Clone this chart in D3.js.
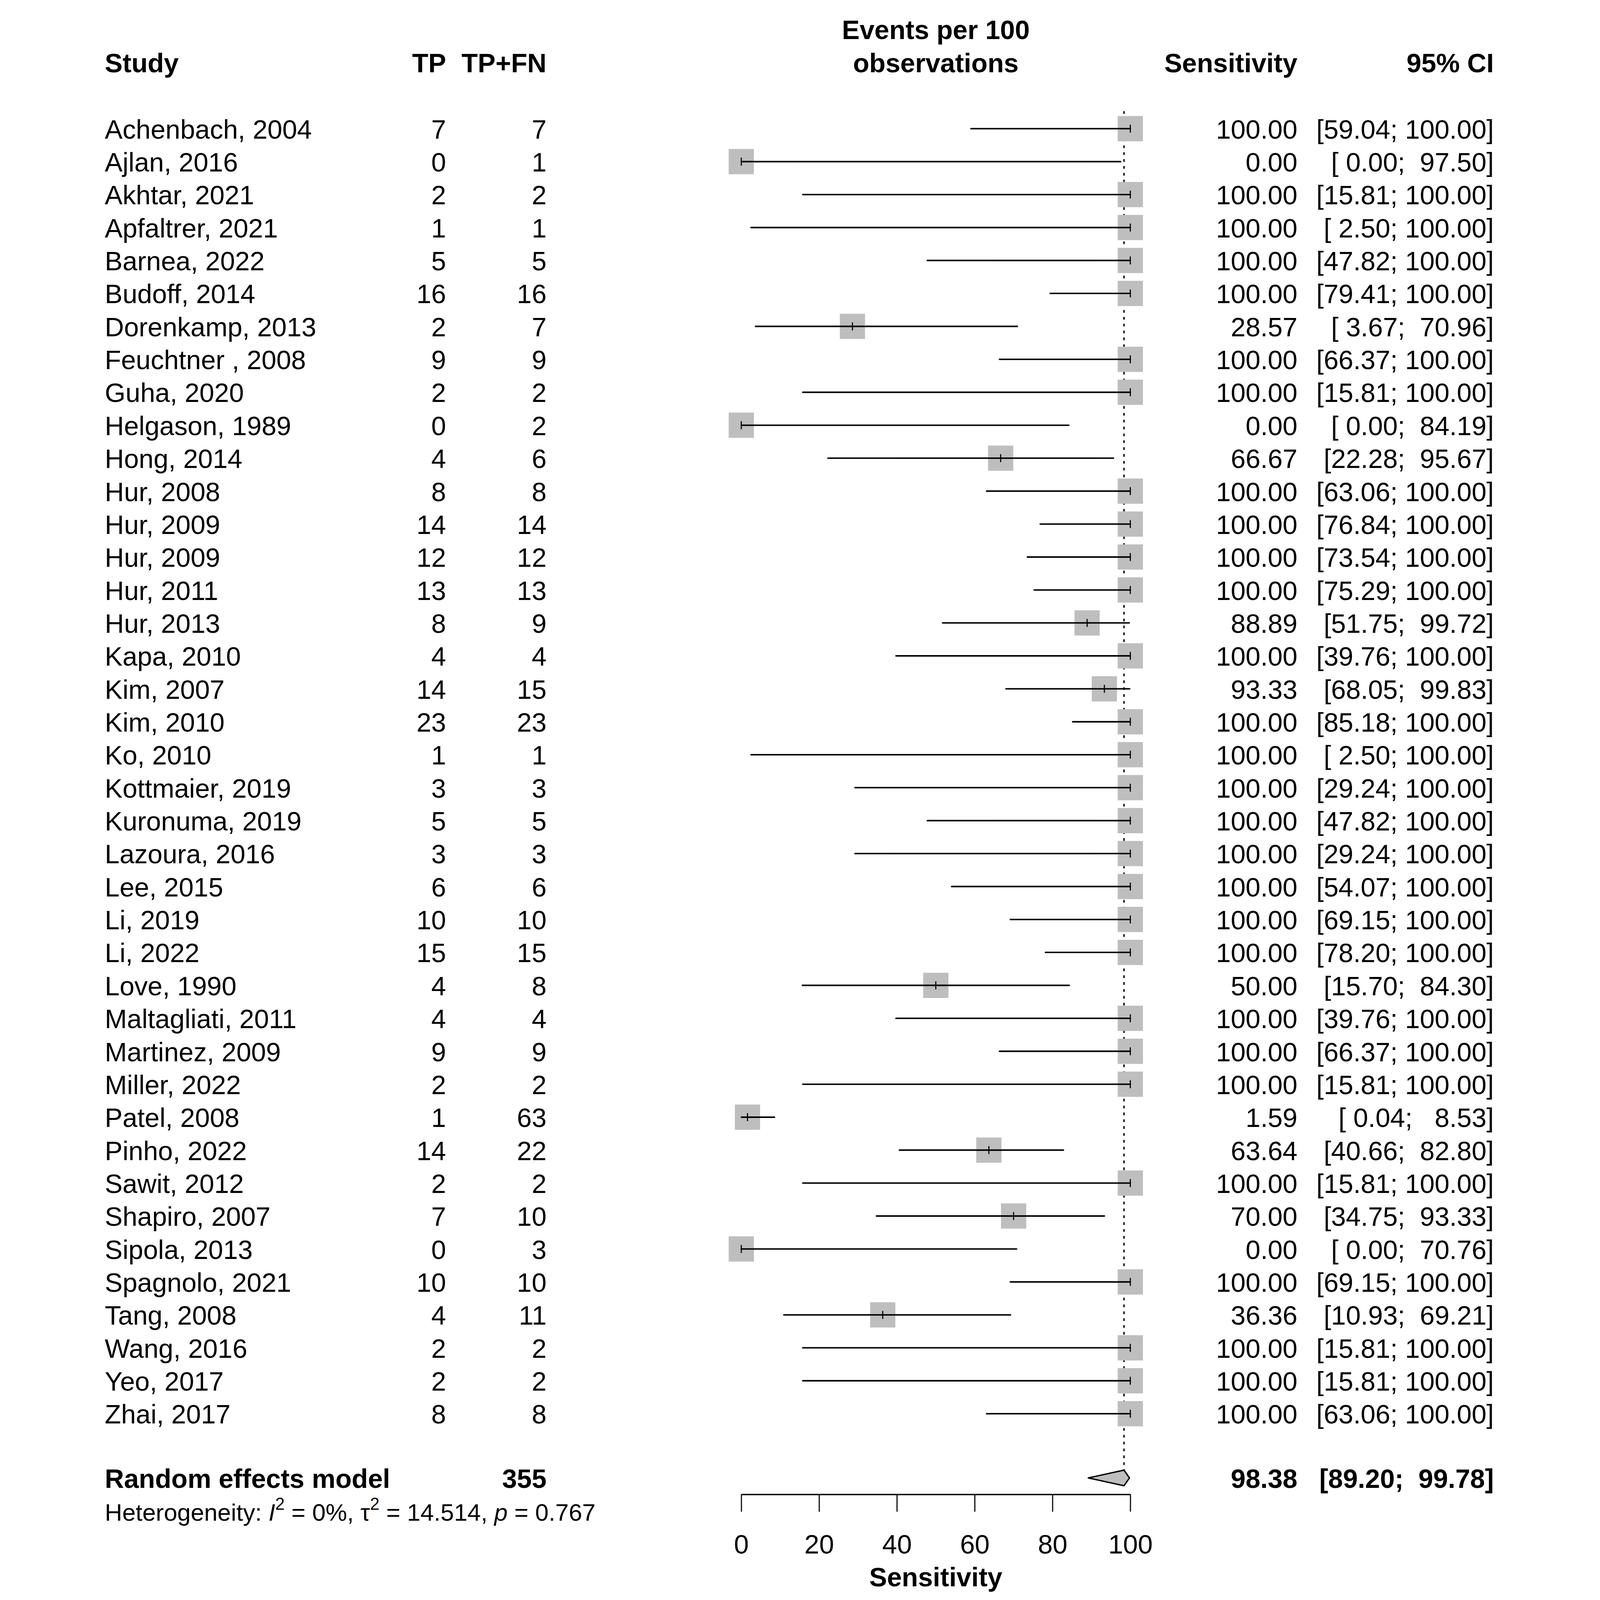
<!DOCTYPE html>
<html><head><meta charset="utf-8">
<script src="https://cdn.jsdelivr.net/npm/d3@7"></script>
<style>html,body{margin:0;padding:0;background:#fff;width:100%;height:100%;overflow:hidden;}svg{display:block;}</style>
</head><body>
<script>
const studies = ["Achenbach, 2004","Ajlan, 2016","Akhtar, 2021","Apfaltrer, 2021","Barnea, 2022","Budoff, 2014","Dorenkamp, 2013","Feuchtner , 2008","Guha, 2020","Helgason, 1989","Hong, 2014","Hur, 2008","Hur, 2009","Hur, 2009","Hur, 2011","Hur, 2013","Kapa, 2010","Kim, 2007","Kim, 2010","Ko, 2010","Kottmaier, 2019","Kuronuma, 2019","Lazoura, 2016","Lee, 2015","Li, 2019","Li, 2022","Love, 1990","Maltagliati, 2011","Martinez, 2009","Miller, 2022","Patel, 2008","Pinho, 2022","Sawit, 2012","Shapiro, 2007","Sipola, 2013","Spagnolo, 2021","Tang, 2008","Wang, 2016","Yeo, 2017","Zhai, 2017"];
const tp = [7,0,2,1,5,16,2,9,2,0,4,8,14,12,13,8,4,14,23,1,3,5,3,6,10,15,4,4,9,2,1,14,2,7,0,10,4,2,2,8];
const tpfn = [7,1,2,1,5,16,7,9,2,2,6,8,14,12,13,9,4,15,23,1,3,5,3,6,10,15,8,4,9,2,63,22,2,10,3,10,11,2,2,8];
const sens = [100,0,100,100,100,100,28.57,100,100,0,66.67,100,100,100,100,88.89,100,93.33,100,100,100,100,100,100,100,100,50,100,100,100,1.59,63.64,100,70,0,100,36.36,100,100,100];
const lower = [59.04,0,15.81,2.50,47.82,79.41,3.67,66.37,15.81,0,22.28,63.06,76.84,73.54,75.29,51.75,39.76,68.05,85.18,2.50,29.24,47.82,29.24,54.07,69.15,78.20,15.70,39.76,66.37,15.81,0.04,40.66,15.81,34.75,0,69.15,10.93,15.81,15.81,63.06];
const upper = [100,97.50,100,100,100,100,70.96,100,100,84.19,95.67,100,100,100,100,99.72,100,99.83,100,100,100,100,100,100,100,100,84.30,100,100,100,8.53,82.80,100,93.33,70.76,100,69.21,100,100,100];
const pooledLabel = "Random effects model";
const pooledTotal = 355;
const pooledEst = 98.38, pooledLow = 89.20, pooledHigh = 99.78;
const hetText = {i2: "0%", tau2: "14.514", p: "0.767"};
const xTicks = [0,20,40,60,80,100];
const headers = {study:"Study", tp:"TP", tpfn:"TP+FN", plot1:"Events per 100", plot2:"observations", est:"Sensitivity", ci:"95% CI"};
const xLabel = "Sensitivity";

const W = 5328, H = 5832;
const FONT = "'Liberation Sans', Arial, Helvetica, sans-serif";
const FS = 97;
const svg = d3.select("body").append("svg")
  .attr("viewBox", `0 0 ${W} ${H}`)
  .attr("preserveAspectRatio", "xMidYMid meet")
  .style("width", "100vw").style("height", "100vh")
  .style("font-family", FONT);
svg.append("rect").attr("width", W).attr("height", H).attr("fill", "#fff");

const x = d3.scaleLinear().domain([0,100]).range([2450,3868]);
const y = d3.scaleLinear().domain([0, studies.length-1]).range([469, 5153]);
const f2 = d3.format(".2f");
const pad = (s, n) => " ".repeat(Math.max(0, n - s.length)) + s;
const ciStr = (lo, hi) => "[" + pad(f2(lo),5) + "; " + pad(f2(hi),6) + "]";

const colStudy = 130, colTP = 1374, colTPFN = 1740, colEst = 4477, colCI = 5193;
const baseOff = 36;

// headers
const hg = svg.append("g").attr("font-weight","bold").attr("font-size", FS);
hg.append("text").attr("x", colStudy).attr("y", 264).text(headers.study);
hg.append("text").attr("x", colTP).attr("y", 264).attr("text-anchor","end").text(headers.tp);
hg.append("text").attr("x", colTPFN).attr("y", 264).attr("text-anchor","end").text(headers.tpfn);
hg.append("text").attr("x", x(50)).attr("y", 143).attr("text-anchor","middle").text(headers.plot1);
hg.append("text").attr("x", x(50)).attr("y", 264).attr("text-anchor","middle").text(headers.plot2);
hg.append("text").attr("x", colEst).attr("y", 264).attr("text-anchor","end").text(headers.est);
hg.append("text").attr("x", colCI).attr("y", 264).attr("text-anchor","end").text(headers.ci);

// dotted reference line at pooled estimate
const diamondY = 5387, diamondH = 28.5;
svg.append("line").attr("x1", x(pooledEst)).attr("x2", x(pooledEst))
  .attr("y1", 405).attr("y2", diamondY - diamondH)
  .attr("stroke","#000").attr("stroke-width",5).attr("stroke-dasharray","10,15");

// study rows
const idx = d3.range(studies.length);
const rows = svg.append("g").selectAll("g").data(idx).join("g");
const BOX = 92;
rows.append("rect").attr("x", i => x(sens[i]) - BOX/2).attr("y", i => y(i) - BOX/2)
  .attr("width", BOX).attr("height", BOX).attr("fill","#bebebe");
rows.append("line").attr("x1", i => x(lower[i])).attr("x2", i => x(upper[i]))
  .attr("y1", i => y(i)).attr("y2", i => y(i)).attr("stroke","#000").attr("stroke-width",5.5)
  .attr("stroke-linecap","round");
rows.append("line").attr("x1", i => x(sens[i])).attr("x2", i => x(sens[i]))
  .attr("y1", i => y(i) - 14.5).attr("y2", i => y(i) + 14.5).attr("stroke","#000").attr("stroke-width",4);

const tg = rows.append("g").attr("font-size", FS);
tg.append("text").attr("x", colStudy).attr("y", i => y(i) + baseOff).text(i => studies[i]);
tg.append("text").attr("x", colTP).attr("y", i => y(i) + baseOff).attr("text-anchor","end").text(i => tp[i]);
tg.append("text").attr("x", colTPFN).attr("y", i => y(i) + baseOff).attr("text-anchor","end").text(i => tpfn[i]);
tg.append("text").attr("x", colEst).attr("y", i => y(i) + baseOff).attr("text-anchor","end").text(i => f2(sens[i]));
tg.append("text").attr("x", colCI).attr("y", i => y(i) + baseOff).attr("text-anchor","end")
  .attr("xml:space","preserve").style("white-space","pre").text(i => ciStr(lower[i], upper[i]));

// pooled estimate
svg.append("polygon")
  .attr("points", [[x(pooledLow), diamondY],[x(pooledEst), diamondY - diamondH],[x(pooledHigh), diamondY],[x(pooledEst), diamondY + diamondH]].map(p => p.join(",")).join(" "))
  .attr("fill","#bebebe").attr("stroke","#000").attr("stroke-width",5).attr("stroke-linejoin","round");
const pg = svg.append("g").attr("font-size", FS).attr("font-weight","bold");
const pBase = diamondY + 37;
pg.append("text").attr("x", colStudy).attr("y", pBase).text(pooledLabel);
pg.append("text").attr("x", colTPFN).attr("y", pBase).attr("text-anchor","end").text(pooledTotal);
pg.append("text").attr("x", colEst).attr("y", pBase).attr("text-anchor","end").text(f2(pooledEst));
pg.append("text").attr("x", colCI).attr("y", pBase).attr("text-anchor","end")
  .attr("xml:space","preserve").style("white-space","pre").text(ciStr(pooledLow, pooledHigh));

// heterogeneity
const het = svg.append("text").attr("x", colStudy).attr("y", 5543).attr("font-size", 88)
  .attr("xml:space","preserve").style("white-space","pre");
het.append("tspan").text("Heterogeneity: ");
het.append("tspan").attr("font-style","italic").text("I");
het.append("tspan").attr("font-size", 62).attr("dy", -40).text("2");
het.append("tspan").attr("dy", 40).text(" = " + hetText.i2 + ", τ");
het.append("tspan").attr("font-size", 62).attr("dy", -40).text("2");
het.append("tspan").attr("dy", 40).text(" = " + hetText.tau2 + ", ");
het.append("tspan").attr("font-style","italic").text("p");
het.append("tspan").text(" = " + hetText.p);

// axis
const axisY = 5447;
const ax = svg.append("g").attr("transform", `translate(0,${axisY})`)
  .call(d3.axisBottom(x).tickValues(xTicks).tickSize(63).tickSizeOuter(0).tickPadding(84).tickFormat(d3.format("d")));
ax.select(".domain").attr("stroke-width",5);
ax.selectAll(".tick line").attr("stroke-width",4);
ax.selectAll(".tick text").attr("font-size", FS).attr("font-family", FONT).attr("fill","#000");
svg.append("text").attr("x", x(50)).attr("y", 5782).attr("text-anchor","middle")
  .attr("font-size", FS).attr("font-weight","bold").text(xLabel);
</script>
</body></html>
